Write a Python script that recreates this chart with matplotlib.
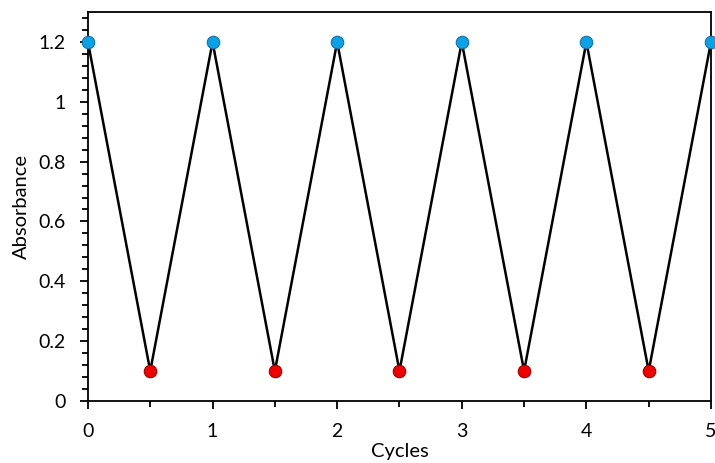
import matplotlib.pyplot as plt
from matplotlib.ticker import MultipleLocator

# Absorbance switching over cycles
cycles = [0, 0.5, 1, 1.5, 2, 2.5, 3, 3.5, 4, 4.5, 5]
absorbance = [1.2, 0.1, 1.2, 0.1, 1.2, 0.1, 1.2, 0.1, 1.2, 0.1, 1.2]
high_x = [0, 1, 2, 3, 4, 5]
high_y = [1.2, 1.2, 1.2, 1.2, 1.2, 1.2]
low_x = [0.5, 1.5, 2.5, 3.5, 4.5]
low_y = [0.1, 0.1, 0.1, 0.1, 0.1]

plt.rcParams['font.family'] = ['Lato', 'DejaVu Sans']

fig = plt.figure(figsize=(7.15, 4.63), dpi=100)
ax = fig.add_axes([0.123, 0.134, 0.8714, 0.840])

ax.plot(cycles, absorbance, color="black", linewidth=1.8, zorder=2)
ax.plot(high_x, high_y, "o", color="#0AA2E6", markeredgecolor="#1A6FA8",
        markersize=9, markeredgewidth=0.8, zorder=3, clip_on=False)
ax.plot(low_x, low_y, "o", color="#F00000", markeredgecolor="#A00000",
        markersize=9, markeredgewidth=0.8, zorder=3, clip_on=False)

ax.set_xlim(0, 5)
ax.set_ylim(0, 1.3)
ax.set_yticks([0, 0.2, 0.4, 0.6, 0.8, 1, 1.2])
ax.set_yticklabels(["0", "0.2", "0.4", "0.6", "0.8", "1", "1.2"])
ax.yaxis.set_minor_locator(MultipleLocator(0.04))
ax.set_xticks([0, 1, 2, 3, 4, 5])
ax.xaxis.set_minor_locator(MultipleLocator(0.5))

ax.tick_params(axis="both", which="major", labelsize=14, length=6, width=1.3,
               direction="out", pad=10)
ax.tick_params(axis="both", which="minor", length=4, width=1.3, direction="out")
for s in ax.spines.values():
    s.set_linewidth(1.3)

ax.set_xlabel("Cycles", fontsize=14.5, labelpad=2)
ax.set_ylabel("Absorbance", fontsize=14.5, labelpad=6)

plt.savefig("out.png", dpi=100)
